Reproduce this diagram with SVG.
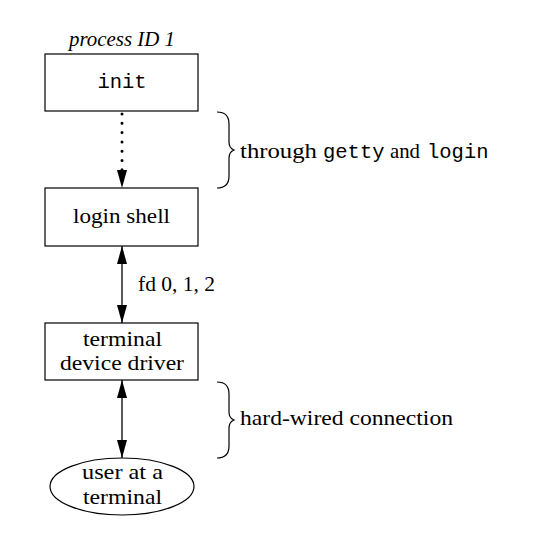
<svg xmlns="http://www.w3.org/2000/svg" width="535" height="539" viewBox="0 0 535 539">
<style>
.box{fill:#fff;stroke:#000;stroke-width:1.2}
.t{font-family:"Liberation Serif",serif;font-size:21px;fill:#000}
.m{font-family:"Liberation Mono",monospace;font-size:20.5px;fill:#000}
.ln{stroke:#000;stroke-width:1.3;fill:none}
.br{stroke:#000;stroke-width:1.2;fill:none}
</style>
<defs>
<marker id="ah" viewBox="0 0 18 10" refX="18" refY="5" markerWidth="18" markerHeight="10" markerUnits="userSpaceOnUse" orient="auto-start-reverse">
<path d="M0,0 L18,5 L0,10 Z" fill="#000"/>
</marker>
</defs>
<rect width="535" height="539" fill="#fff"/>
<g id="connectors">
<line x1="122" y1="114" x2="122" y2="188" style="stroke:#000;stroke-width:3;stroke-dasharray:0 9.3;stroke-linecap:round;fill:none" marker-end="url(#ah)"/>
<line class="ln" x1="122" y1="246" x2="122" y2="323" marker-start="url(#ah)" marker-end="url(#ah)"/>
<line class="ln" x1="122" y1="380" x2="122" y2="458" marker-start="url(#ah)" marker-end="url(#ah)"/>
</g>
<g id="init">
<text class="t" x="69" y="46" font-style="italic" textLength="106" lengthAdjust="spacingAndGlyphs">process ID 1</text>
<rect class="box" x="45" y="54" width="153" height="57"/>
<text class="m" x="122" y="88" text-anchor="middle">init</text>
</g>
<g id="login-shell">
<rect class="box" x="45" y="188" width="153" height="58"/>
<text class="t" x="73" y="223" textLength="97" lengthAdjust="spacingAndGlyphs">login shell</text>
</g>
<g id="terminal-driver">
<rect class="box" x="45" y="323" width="153" height="57"/>
<text class="t" x="83" y="346" textLength="79" lengthAdjust="spacingAndGlyphs">terminal</text>
<text class="t" x="60" y="370" textLength="124" lengthAdjust="spacingAndGlyphs">device driver</text>
</g>
<g id="user">
<ellipse class="box" cx="122" cy="486.5" rx="72" ry="28.5"/>
<text class="t" x="82" y="479" textLength="81" lengthAdjust="spacingAndGlyphs">user at a</text>
<text class="t" x="83" y="504" textLength="79" lengthAdjust="spacingAndGlyphs">terminal</text>
</g>
<g id="labels">
<text class="t" x="138" y="291" textLength="77" lengthAdjust="spacingAndGlyphs">fd 0, 1, 2</text>
<path class="br" d="M217,112 Q229,112 229,124 L229,142 Q229,148 234,150 Q229,152 229,158 L229,176 Q229,188 217,188"/>
<text class="t" x="240" y="158" textLength="77" lengthAdjust="spacingAndGlyphs">through</text>
<text class="m" x="323" y="158">getty</text>
<text class="t" x="390" y="158" textLength="30" lengthAdjust="spacingAndGlyphs">and</text>
<text class="m" x="427" y="158">login</text>
<path class="br" d="M217,382 Q229,382 229,394 L229,412 Q229,418 234,420 Q229,422 229,428 L229,446 Q229,458 217,458"/>
<text class="t" x="240" y="425" textLength="213" lengthAdjust="spacingAndGlyphs">hard-wired connection</text>
</g>
</svg>
